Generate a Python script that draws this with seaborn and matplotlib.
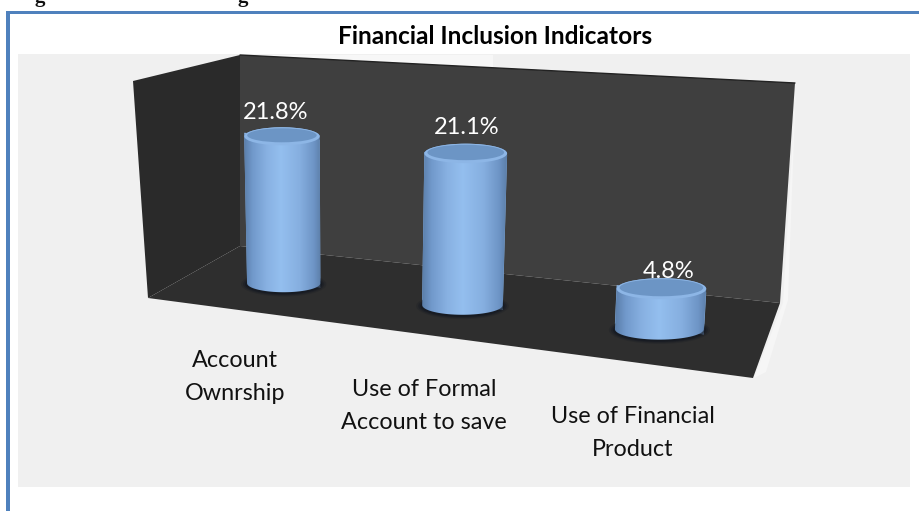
import numpy as np
import pandas as pd
import seaborn as sns
import matplotlib
matplotlib.use("Agg")
import matplotlib.pyplot as plt
from matplotlib.colors import LinearSegmentedColormap
from matplotlib.patches import Ellipse, PathPatch, Polygon, Rectangle
from matplotlib.path import Path
from matplotlib.transforms import Transform

# Financial inclusion indicators (percent)
categories = ["Account\nOwnrship", "Use of Formal\nAccount to save", "Use of Financial\nProduct"]
values = [21.8, 21.1, 4.8]
title = "Financial Inclusion Indicators"

W, H = 920, 511
FONT = "Lato"
sns.set_theme(style="white")
plt.rcParams["font.family"] = [FONT, "DejaVu Sans"]


class FloorPlane(Transform):
    """Maps (category position, value) onto the tilted plane the columns stand on."""
    input_dims = output_dims = 2
    is_separable = False
    has_inverse = False

    def transform_non_affine(self, xy):
        xy = np.asarray(xy, dtype=float)
        u = (xy[:, 0] + 0.5) / 3.0
        u = u * 0.865 / (1 - u + u * 0.865)
        v = xy[:, 1] / 25.0 * (1 - 0.4 * u * (1 - u))
        left = np.array([200.0, 273.0]), np.array([195.0, 106.0])
        right = np.array([765.0, 342.0]), np.array([780.0, 106.0])
        lo = left[0] * (1 - u)[:, None] + right[0] * u[:, None]
        hi = left[1] * (1 - u)[:, None] + right[1] * u[:, None]
        return lo * (1 - v)[:, None] + hi * v[:, None]


plane = FloorPlane()
fig = plt.figure(figsize=(W / 100, H / 100), dpi=100, facecolor="white")


def pixel_axes(z):
    a = fig.add_axes([0, 0, 1, 1], zorder=z)
    a.set_xlim(0, W)
    a.set_ylim(H, 0)
    a.axis("off")
    a.patch.set_visible(False)
    return a


back = pixel_axes(0)
bar_ax = fig.add_axes([0, 0, 1, 1], zorder=1)
front = pixel_axes(2)

# Page furniture: clipped caption line, blue frame and grey chart area
for gx in (40, 243):
    back.text(gx, 2, "g", family="Liberation Serif", weight="bold", fontsize=15,
              ha="center", va="baseline", color="#111111", clip_on=False)
back.add_patch(Rectangle((6, 11), W - 6, 3, fc="#4f81bd", ec="none"))
back.add_patch(Rectangle((6, 11), 4, H - 11, fc="#4f81bd", ec="none"))
back.add_patch(Rectangle((18, 54.5), 892, 432.5, fc="#f0f0f0", ec="none"))

# Box walls and floor
back.add_patch(Polygon([(240, 55), (493, 55), (493, 68)], fc="#f7f7f7", ec="none"))
back.add_patch(Polygon([(796, 84), (783, 303), (754, 378), (766, 372), (788, 300)], fc="#f6f6f6", ec="none"))
back.add_patch(Polygon([(240, 55), (795, 83), (780, 303), (240, 246)], fc="#3f3f3f", ec="none"))
back.add_patch(Polygon([(133, 81), (240, 55), (240, 246), (148, 298)], fc="#2a2a2a", ec="none"))
back.add_patch(Polygon([(148, 298), (240, 246), (780, 303), (753, 378)], fc="#2e2e2e", ec="none"))
back.plot([240, 795], [55, 83], color="#222222", lw=1)

# Columns
frame = pd.DataFrame({"indicator": categories, "share": values})
sns.barplot(data=frame, x="indicator", y="share", ax=bar_ax, color="#8fb9ea",
            width=0.43, saturation=1, linewidth=0)
bar_ax.set_xlim(-0.5, 2.5)
bar_ax.set_ylim(0, 25)
bar_ax.axis("off")
bar_ax.patch.set_visible(False)

shade = LinearSegmentedColormap.from_list(
    "column", [(0, "#587ba6"), (0.12, "#7199cb"), (0.3, "#88b1e2"), (0.48, "#94bfef"),
               (0.72, "#86afe0"), (0.9, "#6e95c6"), (1, "#5a7ca6")])
label_shift = [(-6, -24), (1, -26), (7, -17)]

for bar, val, (dx, dy) in zip(bar_ax.patches, values, label_shift):
    bar.set_transform(plane + back.transData)
    bar.set_clip_on(False)
    x0, w, h = bar.get_x(), bar.get_width(), bar.get_height()
    (bl, br, tr, tl) = plane.transform(np.array([[x0, 0], [x0 + w, 0], [x0 + w, h], [x0, h]]))
    bc, tc = (bl + br) / 2, (tl + tr) / 2
    rb, rt = (br[0] - bl[0]) / 2, (tr[0] - tl[0]) / 2
    ry = 9 + 0.012 * (bc[0] - 280) / 3

    # Soft contact shadow on the floor
    for grow, alpha in ((6, 0.2), (4, 0.3), (2, 0.5)):
        front.add_patch(Ellipse((bc[0], bc[1] + 1), 2 * (rb + grow), 2 * (ry + grow * 0.55),
                                fc="#10151f", ec="none", alpha=alpha))

    # Body outline: lower arc of the base, then upper arc of the top face
    t = np.linspace(np.pi, 0, 40)
    lower = np.c_[bc[0] + rb * np.cos(t), bc[1] + ry * np.sin(t)]
    upper = np.c_[tc[0] + rt * np.cos(t[::-1]), tc[1] - ry * np.sin(t[::-1])]
    outline = Path(np.r_[lower, upper, lower[:1]], closed=False)
    body = PathPatch(outline, fc="none", ec="none")
    front.add_patch(body)
    span = (min(tl[0], bl[0]) - 1, max(tr[0], br[0]) + 1)
    img = front.imshow(np.linspace(0, 1, 128)[None, :], cmap=shade, aspect="auto",
                       extent=(span[0], span[1], bc[1] + ry + 1, tc[1] - ry - 1), zorder=3)
    img.set_clip_path(body)
    front.set_xlim(0, W)
    front.set_ylim(H, 0)

    # Top face with its pale rim
    front.add_patch(Ellipse(tc, 2 * rt, 2 * ry, fc="#8db6e6", ec="none", zorder=4))
    front.add_patch(Ellipse((tc[0], tc[1] - 1), 2 * rt - 6, 2 * ry - 4, fc="#6c95c5", ec="none", zorder=5))

    front.text(tc[0] + dx, tc[1] + dy, f"{val}%", color="white", fontsize=17,
               ha="center", va="center", zorder=6)

# Category captions under the box
caption_at = [(235, 377), (424, 406), (633, 433)]
for name, (cx, cy) in zip(categories, caption_at):
    front.text(cx, cy, name, color="#111111", fontsize=16.8, ha="center", va="center",
               linespacing=1.7, multialignment="center")

front.text(495, 37, title, color="black", fontsize=17.6, weight="bold", ha="center", va="center")

fig.savefig("out.png", dpi=100)
